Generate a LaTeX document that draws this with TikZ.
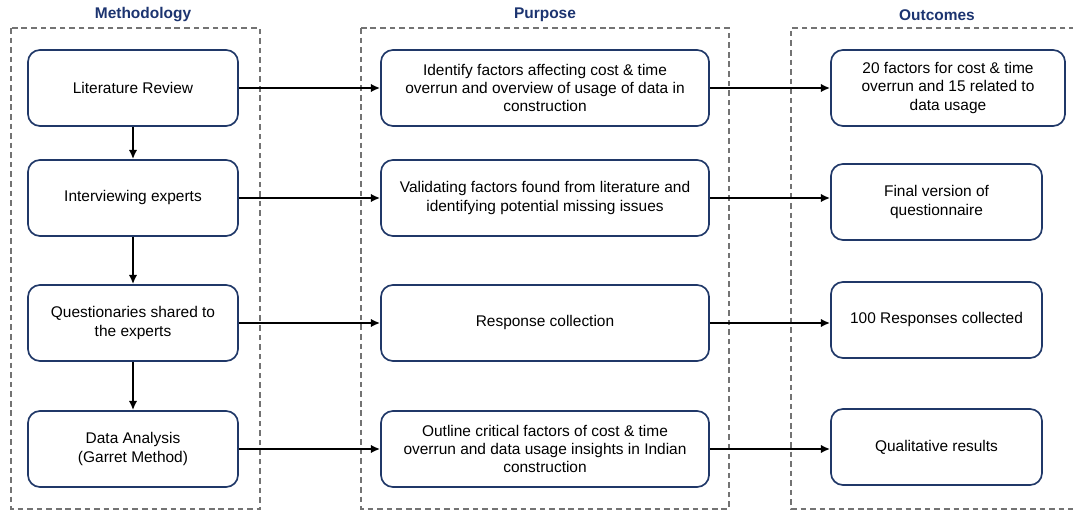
\documentclass[tikz,border=0pt]{standalone}
\usepackage{fontspec}
\setmainfont{Liberation Sans}
\usetikzlibrary{arrows.meta}
\definecolor{headblue}{RGB}{28,52,112}
\definecolor{boxblue}{RGB}{32,56,104}
\tikzset{
  stagebox/.style={draw=boxblue, line width=1.2pt, rounded corners=0.3cm, align=center,
    minimum height=1.9cm, inner sep=2pt, font=\fontsize{11}{13.1}\selectfont},
  colhead/.style={text=headblue, font=\fontsize{11}{13}\selectfont\bfseries},
  colframe/.style={draw=black!55, line width=0.75pt, dash pattern=on 4pt off 2.8pt},
  flow/.style={-{Latex[length=2.3mm,width=2.1mm]}, line width=1.45pt}
}
\begin{document}
\begin{tikzpicture}[x=0.025cm,y=-0.025cm]
    \useasboundingbox (0,0) rectangle (1073,511);

    % colonne tratteggiate
    \draw[colframe] (11,28) rectangle (260,509);
    \draw[colframe] (361,28) rectangle (729,509);
    \draw[colframe] (1075,28) -- (791,28) -- (791,509) -- (1075,509);

    \node[colhead] (hmeth) at (143,15) {Methodology};
    \node[colhead] (hpurp) at (545,15) {Purpose};
    \node[colhead] (hout) at (937,15) {Outcomes};

    % metodologia
    \node[stagebox, minimum width=5.25cm] (m1) at (133,88) {Literature Review};
    \node[stagebox, minimum width=5.25cm] (m2) at (133,198) {Interviewing experts};
    \node[stagebox, minimum width=5.25cm] (m3) at (133,323) {Questionaries shared to\\the experts};
    \node[stagebox, minimum width=5.25cm] (m4) at (133,449) {Data Analysis\\(Garret Method)};

    % scopo
    \node[stagebox, minimum width=8.2cm] (p1) at (545,88) {Identify factors affecting cost \& time\\overrun and overview of usage of data in\\construction};
    \node[stagebox, minimum width=8.2cm] (p2) at (545,198) {Validating factors found from literature and\\identifying potential missing issues};
    \node[stagebox, minimum width=8.2cm] (p3) at (545,323) {Response collection};
    \node[stagebox, minimum width=8.2cm] (p4) at (545,449) {Outline critical factors of cost \& time\\overrun and data usage insights in Indian\\construction};

    % risultati
    \node[stagebox, minimum width=5.85cm] (o1) at (948,88) {20 factors for cost \& time\\overrun and 15 related to\\data usage};
    \node[stagebox, minimum width=5.275cm] (o2) at (936.5,202) {Final version of\\questionnaire};
    \node[stagebox, minimum width=5.275cm] (o3) at (936.5,320) {100 Responses collected};
    \node[stagebox, minimum width=5.275cm] (o4) at (936.5,447) {Qualitative results};

    % frecce
    \draw[flow] (m1) -- (m2);
    \draw[flow] (m2) -- (m3);
    \draw[flow] (m3) -- (m4);

    \draw[flow] (m1) -- (p1);
    \draw[flow] (m2) -- (p2);
    \draw[flow] (m3) -- (p3);
    \draw[flow] (m4) -- (p4);

    \draw[flow] (p1.east) -- (p1.east -| o1.west);
    \draw[flow] (p2.east) -- (p2.east -| o2.west);
    \draw[flow] (p3.east) -- (p3.east -| o3.west);
    \draw[flow] (p4.east) -- (p4.east -| o4.west);
\end{tikzpicture}
\end{document}
